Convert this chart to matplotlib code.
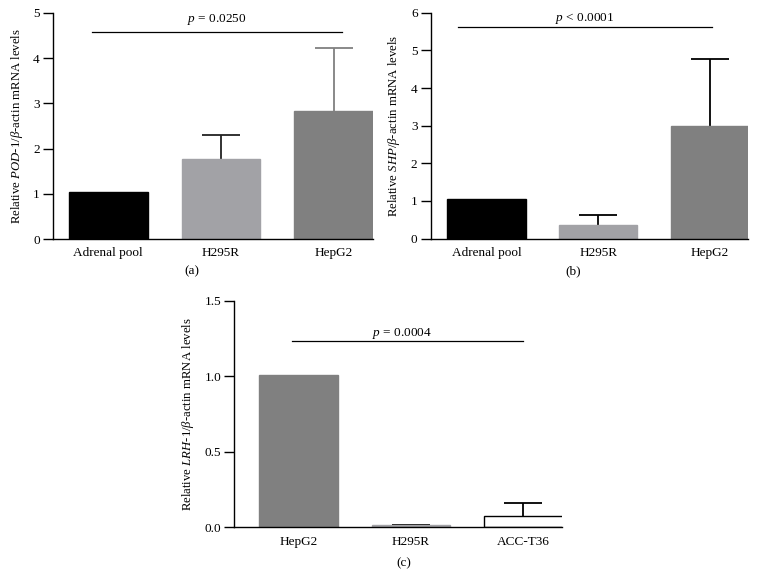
import numpy as np
import matplotlib
matplotlib.use('Agg')
import matplotlib.pyplot as plt

plt.rcParams['font.family'] = ['Liberation Serif', 'DejaVu Serif']
plt.rcParams['mathtext.fontset'] = 'custom'
plt.rcParams['mathtext.rm'] = 'Liberation Serif'
plt.rcParams['mathtext.it'] = 'Liberation Serif:italic'

# panel (a) POD-1
a_labels = ['Adrenal pool', 'H295R', 'HepG2']
a_values = [1.05, 1.78, 2.83]
a_errors = [0.0, 0.52, 1.40]
a_pvalue = '= 0.0250'

# panel (b) SHP
b_labels = ['Adrenal pool', 'H295R', 'HepG2']
b_values = [1.04, 0.35, 3.00]
b_errors = [0.0, 0.27, 1.76]
b_pvalue = '< 0.0001'

# panel (c) LRH-1
c_labels = ['HepG2', 'H295R', 'ACC-T36']
c_values = [1.005, 0.012, 0.073]
c_errors = [0.0, 0.004, 0.087]
c_pvalue = '= 0.0004'

black = '#000000'
light = '#a2a2a6'
dark = '#808080'

fig = plt.figure(figsize=(7.57, 5.79), dpi=100)


def panel(rect, labels, values, errors, colors, edges, ecolors, ylim, yticks, ytl,
          ylabel, pval, pline, ptext, tag, tagpos, xlim):
    ax = fig.add_axes(rect)
    x = np.arange(len(labels))
    ax.bar(x, values, width=0.70, color=colors, edgecolor=edges, linewidth=1.0, zorder=2)
    for xi, v, e, ec in zip(x, values, errors, ecolors):
        if e > 0:
            # only the upper half of the error bar is shown
            _, caps, _ = ax.errorbar(xi, v, yerr=[[0], [e]], fmt='none', ecolor=ec,
                                     elinewidth=1.3, capsize=14, capthick=1.3, zorder=1)
            caps[0].set_visible(False)
    ax.set_xlim(*xlim)
    ax.set_ylim(*ylim)
    ax.set_yticks(yticks)
    ax.set_yticklabels(ytl)
    ax.set_xticks(x)
    ax.set_xticklabels(labels)
    ax.tick_params(axis='x', length=0, pad=6, labelsize=9.5)
    ax.tick_params(axis='y', length=7, width=1, direction='out', labelsize=9.5, pad=2.5)
    for s in ['top', 'right']:
        ax.spines[s].set_visible(False)
    for s in ['left', 'bottom']:
        ax.spines[s].set_linewidth(1.0)
    ax.set_ylabel(ylabel, fontsize=9.2, labelpad=6)
    ax.plot(pline[:2], [pline[2], pline[2]], color='black', linewidth=0.9, clip_on=False)
    ax.text(ptext[0], ptext[1], r'$p$ ' + pval, ha='center', va='center', fontsize=9.5)
    fig.text(tagpos[0], tagpos[1], tag, ha='center', va='center', fontsize=9.5)
    return ax


panel([0.070, 0.587, 0.423, 0.391], a_labels, a_values, a_errors,
      [black, light, dark], [black, light, dark], ['#222222', '#222222', dark],
      (0, 5), range(6), [str(i) for i in range(6)],
      r'Relative $POD$-$\mathit{1}$/$\beta$-actin mRNA levels', a_pvalue,
      (-0.14, 2.07, 4.58), (0.96, 4.85), '(a)', (0.253, 0.532), (-0.49, 2.35))

panel([0.569, 0.588, 0.419, 0.390], b_labels, b_values, b_errors,
      [black, light, dark], [black, light, dark], [black, black, black],
      (0, 6), range(7), [str(i) for i in range(7)],
      r'Relative $SHP$/$\beta$-actin mRNA levels', b_pvalue,
      (-0.26, 2.02, 5.62), (0.88, 5.86), '(b)', (0.757, 0.532), (-0.50, 2.34))

panel([0.3095, 0.0893, 0.4325, 0.3914], c_labels, c_values, c_errors,
      [dark, light, 'white'], [dark, light, black], [black, black, black],
      (0, 1.5), [0, 0.5, 1.0, 1.5], ['0.0', '0.5', '1.0', '1.5'],
      r'Relative $LRH$-$\mathit{1}$/$\beta$-actin mRNA levels', c_pvalue,
      (-0.06, 2.00, 1.234), (0.92, 1.285), '(c)', (0.534, 0.028), (-0.57, 2.34))

fig.savefig('out.png', dpi=100)
